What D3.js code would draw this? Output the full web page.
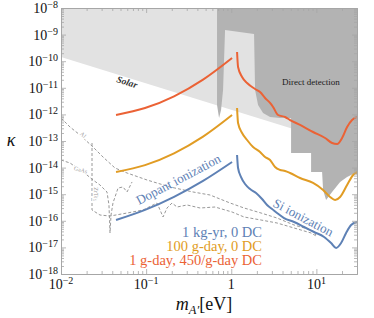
<!DOCTYPE html>
<html><head><meta charset="utf-8">
<script src="https://cdn.jsdelivr.net/npm/d3@7"></script>
<style>body{margin:0;background:#fff}svg{display:block}</style>
</head><body><svg id="c" width="374" height="318"></svg>
<script>
// ---------- data ----------
const xTickExp = [-2, -1, 0, 1];
const yTickExp = [-8, -9, -10, -11, -12, -13, -14, -15, -16, -17, -18];

const solarLine = [[0.01, 1.44e-10], [30, 5.1e-14]];

const directDetection = [
  [0.6808, 1e-8], [30, 1e-8], [30, 5.27e-15], [28.5, 6.27e-15], [22.95, 4.43e-15],
  [18.99, 2.88e-15], [15.29, 1.21e-15], [13.0, 6.05e-16], [11.99, 1.44e-15],
  [11.67, 6.84e-15], [8.665, 6.84e-15], [8.665, 3.54e-14], [5.044, 3.54e-14],
  [5.044, 7.32e-13], [3.745, 7.32e-13], [2.857, 7.98e-13], [2.364, 1.13e-12],
  [2.065, 2.26e-12], [1.905, 8.26e-12], [1.853, 1.05e-9], [0.8454, 1.49e-9],
  [0.801, 8.26e-12], [0.7588, 1.46e-12], [0.719, 7.32e-13], [0.6808, 2.26e-12]
];

const dopantMass = [0.0443, 0.0971, 0.2128, 0.4663, 1.022];
const dopantBlue = [1.07e-16, 2.57e-16, 7.98e-16, 3.16e-15, 1.62e-14];
const dopantYellow = [6.84e-15, 1.24e-14, 3.45e-14, 1.46e-13, 9.49e-13];
const dopantRed = [9.49e-13, 1.73e-12, 4.79e-12, 2.03e-11, 1.32e-10];

const siRed = [[1.17, 2.22e-10], [1.202, 6.05e-11], [1.34, 2.55e-11], [1.534, 1.51e-11], [1.905, 9.02e-12],
  [2.18, 6.95e-12], [2.496, 4.14e-12], [2.857, 2.69e-12], [3.099, 1.90e-12], [3.548, 9.49e-13],
  [4.288, 7.98e-13], [4.909, 6.15e-13], [6.435, 4.00e-13], [9.147, 2.18e-13], [12.66, 1.30e-13],
  [15.29, 8.41e-14], [17.51, 7.71e-14], [20.04, 1.30e-13], [22.95, 3.36e-13], [26.27, 6.15e-13], [30, 7.98e-13]];
const siYellow = [[1.17, 1.74e-12], [1.202, 4.75e-13], [1.34, 2.00e-13], [1.534, 1.09e-13], [1.804, 5.94e-14],
  [2.18, 3.86e-14], [2.496, 2.50e-14], [2.857, 1.93e-14], [3.271, 1.05e-14], [3.745, 8.13e-15],
  [4.288, 7.45e-15], [4.909, 6.27e-15], [6.435, 4.06e-15], [9.147, 2.64e-15], [11.99, 1.44e-15],
  [14.49, 7.85e-16], [16.59, 6.05e-16], [18.99, 7.85e-16], [22.95, 2.22e-15], [27.0, 5.27e-15], [30, 6.84e-15]];
const siBlue = [[1.17, 2.98e-14], [1.202, 9.66e-15], [1.304, 4.43e-15], [1.453, 2.42e-15], [1.663, 1.57e-15],
  [1.956, 1.11e-15], [2.30, 6.61e-16], [2.635, 3.93e-16], [3.017, 2.78e-16], [3.453, 1.96e-16],
  [4.173, 1.27e-16], [5.47, 9.0e-17], [7.17, 5.85e-17], [9.397, 3.79e-17], [12.32, 2.46e-17],
  [14.88, 1.46e-17], [17.04, 9.48e-18], [19.51, 1.46e-17], [22.34, 3.48e-17], [25.57, 6.95e-17], [30, 9.0e-17]];

const alLine = [[0.01, 7.32e-13], [0.01276, 3.36e-13], [0.01672, 1.68e-13], [0.02377, 5.94e-14], [0.03115, 2.50e-14],
  [0.0431, 9.66e-15], [0.0597, 6.27e-15], [0.1025, 3.42e-15], [0.191, 1.87e-15], [0.3557, 1.21e-15],
  [0.5635, 9.33e-16], [0.968, 4.67e-16], [1.414, 3.03e-16], [2.24, 1.96e-16], [3.453, 1.27e-16],
  [5.47, 6.95e-17], [8.665, 4.51e-17], [9.92, 2.92e-17]];
const gaasLine = [[0.01, 1.93e-14], [0.01276, 1.49e-14], [0.01672, 8.13e-15], [0.0202, 5.27e-15], [0.02377, 3.42e-15],
  [0.0287, 2.22e-15], [0.0347, 1.21e-15], [0.0366, 3.93e-16], [0.03765, 3.48e-17], [0.0387, 1.65e-16],
  [0.0408, 4.67e-16], [0.0468, 1.71e-15], [0.0535, 1.87e-15], [0.0597, 1.21e-15], [0.0683, 2.88e-15]];
const zrteLine = [[0.02313, 8.41e-14], [0.02313, 2.55e-16], [0.0287, 1.65e-16], [0.03765, 1.51e-16], [0.0597, 1.96e-16],
  [0.0920, 2.55e-16], [0.1342, 4.67e-16], [0.1457, 2.55e-16], [0.158, 1.39e-16], [0.176, 3.03e-16],
  [0.2015, 4.67e-16], [0.2307, 3.30e-16], [0.3024, 3.93e-16], [0.43, 3.03e-16], [0.645, 3.30e-16],
  [1.022, 2.14e-16], [1.414, 1.39e-16], [2.24, 1.07e-16], [3.453, 8.26e-17], [5.47, 5.36e-17],
  [8.665, 3.48e-17], [9.92, 2.69e-17]];

const legendLabels = ["1 kg-yr, 0 DC", "100 g-day, 0 DC", "1 g-day, 450/g-day DC"];
const seriesColors = ["#5E81B5", "#E19C24", "#EB6235"];

// ---------- drawing ----------
const svg = d3.select("#c");
const X0 = 61, X1 = 357, Y0 = 8, Y1 = 274;
const x = d3.scaleLog().domain([0.01, 30]).range([X0, X1]);
const y = d3.scaleLog().domain([1e-18, 1e-8]).range([Y1, Y0]);
const serif = "'Liberation Serif','Times New Roman',serif";

svg.append("defs").append("clipPath").attr("id", "clip")
  .append("rect").attr("x", X0).attr("y", Y0).attr("width", X1 - X0).attr("height", Y1 - Y0);
const g = svg.append("g").attr("clip-path", "url(#clip)");

const poly = d3.line().x(d => x(d[0])).y(d => y(d[1]));

const solarPoly = [[0.01, 1e-8], solarLine[0], solarLine[1], [30, 1e-8]];
g.append("path").attr("d", poly(solarPoly) + "Z").attr("fill", "#e2e2e2");
g.append("path").attr("d", poly(directDetection) + "Z").attr("fill", "#b3b3b3");

[alLine, gaasLine, zrteLine].forEach(dl => {
  g.append("path").attr("d", poly(dl)).attr("fill", "none")
    .attr("stroke", "#8c8c8c").attr("stroke-width", 0.9).attr("stroke-dasharray", "3,2");
});

function smallLabel(tx, ty, rot) {
  return g.append("text").attr("transform", `translate(${tx},${ty}) rotate(${rot})`)
    .attr("font-family", serif).attr("font-size", 6).attr("fill", "#a0a0a0")
    .attr("text-anchor", "middle").attr("stroke", "#fff").attr("stroke-width", 2)
    .attr("paint-order", "stroke");
}
smallLabel(x(0.0175), y(1.5e-13), 42).text("Al");
smallLabel(x(0.0168), y(7e-15), 15).text("GaAs");
const zt = smallLabel(x(0.0245), y(1e-15), 90);
zt.append("tspan").text("ZrTe");
zt.append("tspan").attr("font-size", 4.5).attr("dy", 1.5).text("5");

const smooth = d3.line().x(d => x(d[0])).y(d => y(d[1])).curve(d3.curveMonotoneX);
const dopantSets = [dopantBlue, dopantYellow, dopantRed].map(vals => vals.map((v, i) => [dopantMass[i], v]));
const siSets = [siBlue, siYellow, siRed];
seriesColors.forEach((col, i) => {
  [dopantSets[i], siSets[i]].forEach(s => {
    g.append("path").attr("d", smooth(s)).attr("fill", "none")
      .attr("stroke", col).attr("stroke-width", 2);
  });
});

g.append("text").attr("transform", `translate(116,82) rotate(17.3)`)
  .attr("font-family", serif).attr("font-size", 9.5).attr("font-weight", "bold")
  .attr("font-style", "italic").attr("fill", "#333").text("Solar");
g.append("text").attr("x", 282).attr("y", 84.5)
  .attr("font-family", serif).attr("font-size", 9).attr("fill", "#1a1a1a").text("Direct detection");
g.append("text").attr("transform", `translate(139,205) rotate(-27.7)`)
  .attr("font-family", serif).attr("font-size", 13).attr("fill", seriesColors[0]).text("Dopant ionization");
g.append("text").attr("transform", `translate(272,206) rotate(27.8)`)
  .attr("font-family", serif).attr("font-size", 13).attr("fill", seriesColors[0]).text("Si ionization");

legendLabels.forEach((lab, i) => {
  svg.append("text").attr("x", 262).attr("y", 237 + i * 14).attr("text-anchor", "end")
    .attr("font-family", serif).attr("font-size", 14.5).attr("fill", seriesColors[i]).text(lab);
});

// ---------- axes ----------
const majorX = xTickExp.map(e => Math.pow(10, e));
const minorX = [];
xTickExp.forEach(e => { for (let k = 2; k <= 9; k++) { const v = k * Math.pow(10, e); if (v <= 30) minorX.push(v); } });
const majorY = yTickExp.map(e => Math.pow(10, e));
const minorY = [];
yTickExp.forEach(e => { if (e < -8) for (let k = 2; k <= 9; k++) minorY.push(k * Math.pow(10, e)); });

const axCol = "#a6a6a6";
function styleAxis(sel) {
  sel.select(".domain").attr("stroke", axCol).attr("stroke-width", 1);
  sel.selectAll(".tick line").attr("stroke", axCol).attr("stroke-width", 0.8);
  sel.selectAll(".tick text").remove();
}
const axes = [
  [d3.axisBottom(x), `translate(0,${Y1})`, majorX, minorX],
  [d3.axisTop(x), `translate(0,${Y0})`, majorX, minorX],
  [d3.axisLeft(y), `translate(${X0},0)`, majorY, minorY],
  [d3.axisRight(y), `translate(${X1},0)`, majorY, minorY]
];
axes.forEach(([ax, tr, maj, min]) => {
  svg.append("g").attr("transform", tr)
    .call(ax.tickValues(min).tickSizeInner(-3).tickSizeOuter(0).tickFormat(() => ""))
    .call(styleAxis);
  svg.append("g").attr("transform", tr)
    .call(ax.tickValues(maj).tickSizeInner(-5).tickSizeOuter(0).tickFormat(() => ""))
    .call(styleAxis);
});

yTickExp.forEach(e => {
  const t = svg.append("text").attr("x", 58).attr("y", y(Math.pow(10, e)) + 5)
    .attr("text-anchor", "end").attr("font-family", serif).attr("font-size", 14).attr("fill", "#111");
  t.append("tspan").text("10");
  t.append("tspan").attr("dy", -5).attr("font-size", 10).text("\u2212" + (-e));
});
xTickExp.forEach(e => {
  const t = svg.append("text").attr("x", x(Math.pow(10, e))).attr("y", 289)
    .attr("text-anchor", "middle").attr("font-family", serif).attr("font-size", 14).attr("fill", "#111");
  if (e === 0) { t.text("1"); }
  else {
    t.append("tspan").text("10");
    t.append("tspan").attr("dy", -5).attr("font-size", 10).text(e < 0 ? "\u2212" + (-e) : String(e));
  }
});

const xl = svg.append("text").attr("x", 204).attr("y", 310).attr("text-anchor", "middle")
  .attr("font-family", serif).attr("font-size", 18).attr("fill", "#111");
xl.append("tspan").attr("font-style", "italic").text("m");
xl.append("tspan").attr("font-style", "italic").attr("font-size", 12.5).attr("dy", 4).text("A\u2032");
xl.append("tspan").attr("dy", -4).text("[eV]");
svg.append("text").attr("x", 11).attr("y", 146).attr("text-anchor", "middle")
  .attr("font-family", serif).attr("font-size", 18).attr("font-style", "italic").attr("fill", "#111").text("\u03ba");
</script>
</body></html>
